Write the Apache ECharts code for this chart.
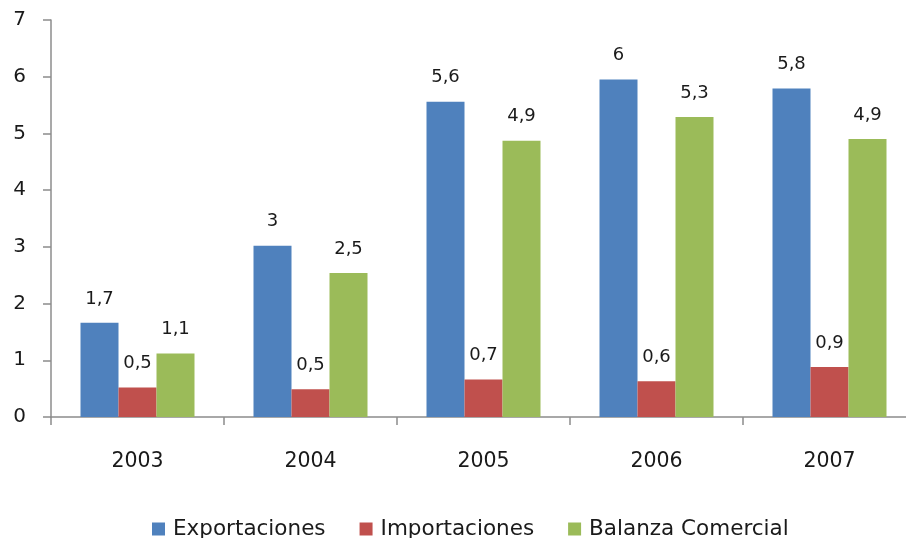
<!DOCTYPE html>
<html>
<head>
<meta charset="utf-8">
<script src="https://cdn.jsdelivr.net/npm/echarts@6/dist/echarts.min.js"></script>
<style>
  html, body { margin: 0; padding: 0; background: #fff; }
  #chart { width: 906px; height: 538px; }
</style>
</head>
<body>
<div id="chart"></div>
<script>
// values (bar heights; labels are rounded to 1 decimal)
const years = ['2003', '2004', '2005', '2006', '2007']
const exportaciones = [1.66, 3.02, 5.56, 5.95, 5.79]
const importaciones = [0.52, 0.49, 0.66, 0.63, 0.88]
const balanza = [1.12, 2.54, 4.87, 5.29, 4.9]
const yTicks = [0, 1, 2, 3, 4, 5, 6, 7]

const font = 'DejaVu Sans'

function fmt(v) {
  return String(Math.round(v * 10) / 10).replace('.', ',')
}

function barSeries(name, data, color) {
  return {
    name,
    type: 'bar',
    data,
    barWidth: 38,
    barGap: '0%',
    itemStyle: { color },
    label: {
      show: true,
      position: 'top',
      distance: 15,
      color: '#1a1a1a',
      fontFamily: font,
      fontSize: 18,
      formatter: p => fmt(p.value)
    }
  }
}

const chart = echarts.init(document.getElementById('chart'), null, { renderer: 'canvas' })

chart.setOption({
  animation: false,
  backgroundColor: '#fff',
  textStyle: { fontFamily: font },
  legend: {
    left: 147,
    top: 513,
    icon: 'rect',
    itemWidth: 13,
    itemHeight: 13,
    itemGap: 34,
    textStyle: { fontFamily: font, fontSize: 21.5, color: '#1a1a1a', padding: [0, 0, 0, 3] },
    data: ['Exportaciones', 'Importaciones', 'Balanza Comercial']
  },
  // the plot runs past the right edge of the picture, as in the original
  grid: { left: 51, top: 20, width: 865, height: 397, containLabel: false, outerBoundsMode: 'none' },
  xAxis: {
    type: 'category',
    data: years,
    axisLine: { lineStyle: { color: '#8c8c8c', width: 1.5 } },
    axisTick: { show: true, length: 8, lineStyle: { color: '#8c8c8c', width: 1.5 } },
    axisLabel: { margin: 34, fontFamily: font, fontSize: 20.5, color: '#1a1a1a' }
  },
  yAxis: {
    type: 'value',
    min: yTicks[0],
    max: yTicks[yTicks.length - 1],
    interval: 1,
    splitLine: { show: false },
    axisLine: { show: true, lineStyle: { color: '#8c8c8c', width: 1.5 } },
    axisTick: { show: true, length: 8, lineStyle: { color: '#8c8c8c', width: 1.5 } },
    axisLabel: { margin: 25, fontFamily: font, fontSize: 20, color: '#1a1a1a' }
  },
  series: [
    barSeries('Exportaciones', exportaciones, '#4F81BD'),
    barSeries('Importaciones', importaciones, '#C0504D'),
    barSeries('Balanza Comercial', balanza, '#9BBB59')
  ]
})
</script>
</body>
</html>
